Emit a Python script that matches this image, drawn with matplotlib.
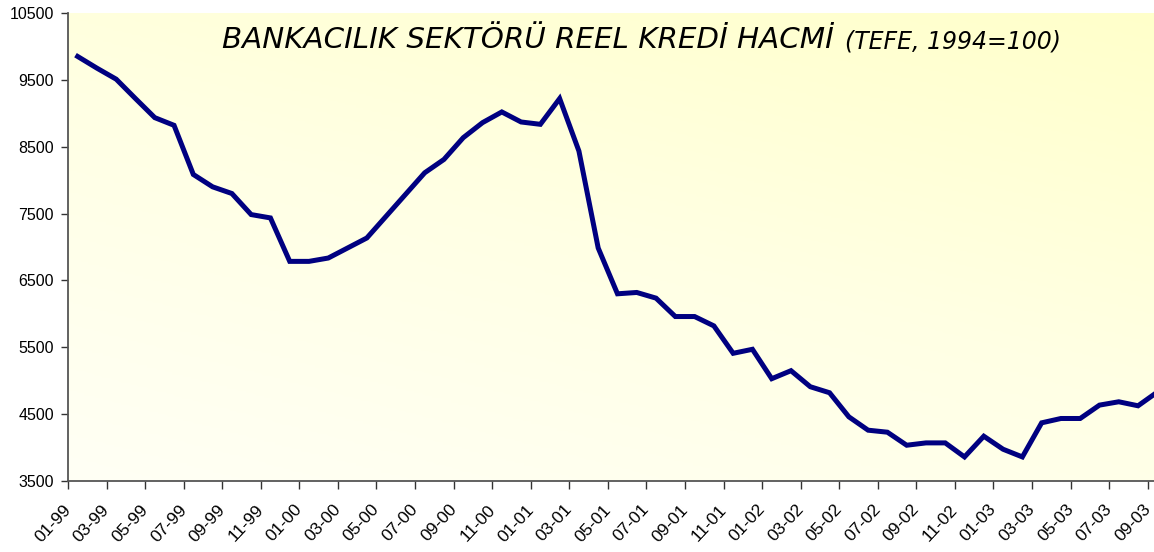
import numpy as np
import matplotlib
matplotlib.use("Agg")
import matplotlib.pyplot as plt
from matplotlib.colors import LinearSegmentedColormap

# monthly real credit volume, 01-99 .. 09-03
credit = [9850, 9675, 9510, 9220, 8935, 8820, 8085, 7900, 7800, 7485,
          7435, 6785, 6785, 6835, 6985, 7135, 7460, 7785, 8110, 8310,
          8635, 8860, 9020, 8870, 8835, 9220, 8435, 6985, 6300, 6320,
          6235, 5960, 5960, 5820, 5410, 5470, 5030, 5150, 4910, 4820,
          4460, 4260, 4230, 4035, 4070, 4070, 3860, 4170, 3975, 3860,
          4370, 4435, 4435, 4635, 4685, 4625, 4830]

tick_labels = ["01-99", "03-99", "05-99", "07-99", "09-99", "11-99",
               "01-00", "03-00", "05-00", "07-00", "09-00", "11-00",
               "01-01", "03-01", "05-01", "07-01", "09-01", "11-01",
               "01-02", "03-02", "05-02", "07-02", "09-02", "11-02",
               "01-03", "03-03", "05-03", "07-03", "09-03"]

yticks = [3500, 4500, 5500, 6500, 7500, 8500, 9500, 10500]

n = len(credit)
x = np.arange(n)

fig = plt.figure(figsize=(11.54, 5.52), dpi=100)
fig.patch.set_facecolor("white")
# plot area runs past the right edge of the picture, like the reference
ax = fig.add_axes([68 / 1154, 71 / 552, (n * 19.28) / 1154, 468 / 552])
ax.set_xlim(-0.5, n - 0.5)
ax.set_ylim(3500, 10500)

# pale-to-yellow background, yellow toward the top right
gx, gy = np.meshgrid(np.linspace(0, 1, 300), np.linspace(0, 1, 200))
grad = 0.38 * gx + 0.62 * gy
cmap = LinearSegmentedColormap.from_list("bg", ["#FFFFF5", "#FFFFE4", "#FFFFCA"])
ax.imshow(grad, cmap=cmap, origin="lower", aspect="auto", vmin=0, vmax=1,
          extent=[-0.5, n - 0.5, 3500, 10500], zorder=0, interpolation="bilinear")

ax.plot(x, credit, color="#000080", linewidth=3.6, solid_joinstyle="miter", zorder=3)

for s in ["top", "right"]:
    ax.spines[s].set_visible(False)
for s in ["left", "bottom"]:
    ax.spines[s].set_color("#555555")
    ax.spines[s].set_linewidth(1.3)

ax.set_yticks(yticks)
ax.set_yticklabels([str(v) for v in yticks], fontfamily="Liberation Sans", fontsize=11.5)
ax.tick_params(axis="y", direction="out", length=5, width=1, color="#333333", pad=5)

# tick marks between categories, labels under every second month
ax.set_xticks(np.arange(-0.5, n, 2))
ax.set_xticklabels([])
ax.tick_params(axis="x", which="major", direction="out", length=6, width=1, color="#333333")
ax.set_xticks(np.arange(0, n, 2) - 0.2, minor=True)
ax.set_xticklabels(tick_labels, minor=True, rotation=47, ha="right",
                   fontfamily="Liberation Sans", fontsize=12.5)
ax.tick_params(axis="x", which="minor", length=0, pad=15)

fig.text(222 / 1154, 1 - 48.5 / 552, "BANKACILIK SEKTÖRÜ REEL KREDİ HACMİ",
         fontfamily="DejaVu Sans", fontstyle="italic", fontsize=21.2,
         ha="left", va="baseline")
fig.text(845 / 1154, 1 - 48.5 / 552, "(TEFE, 1994=100)",
         fontfamily="DejaVu Sans", fontstyle="italic", fontsize=17,
         ha="left", va="baseline")

fig.savefig("out.png", dpi=100)
